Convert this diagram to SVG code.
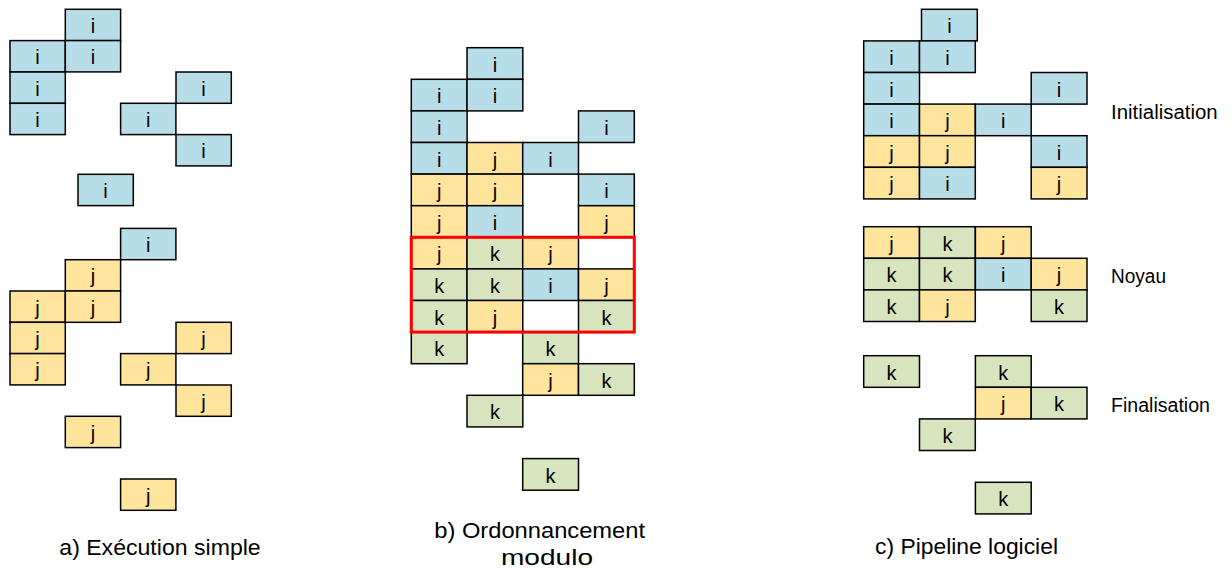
<svg xmlns="http://www.w3.org/2000/svg" width="1231" height="572" viewBox="0 0 1231 572">
<style>
rect.c{stroke:#000;stroke-width:1.5}
.b{fill:#B7DDE8}
.y{fill:#FFE49C}
.g{fill:#D7E4BD}
text{font-family:"Liberation Sans",Arial,sans-serif;fill:#000}
.l{font-size:20px;text-anchor:middle}
.side{font-size:20px}
.cap{font-size:22px}
</style>
<rect width="1231" height="572" fill="#fff"/>
<defs>
<rect id="ca" class="c" width="55.3" height="31.3"/>
<rect id="cb" class="c" width="55.8" height="31.6"/>
</defs>
<g id="colA">
<g id="a1"><use href="#ca" class="b" x="65.3" y="9.3"/><text class="l" x="93" y="33">i</text></g>
<g id="a2"><use href="#ca" class="b" x="10" y="40.6"/><text class="l" x="37.6" y="64.3">i</text></g>
<g id="a3"><use href="#ca" class="b" x="65.3" y="40.6"/><text class="l" x="93" y="64.3">i</text></g>
<g id="a4"><use href="#ca" class="b" x="10" y="72"/><text class="l" x="37.6" y="95.7">i</text></g>
<g id="a5"><use href="#ca" class="b" x="10" y="103.3"/><text class="l" x="37.6" y="127">i</text></g>
<g id="a6"><use href="#ca" class="b" x="176" y="72"/><text class="l" x="203.6" y="95.7">i</text></g>
<g id="a7"><use href="#ca" class="b" x="120.6" y="103.3"/><text class="l" x="148.3" y="127">i</text></g>
<g id="a8"><use href="#ca" class="b" x="176" y="134.6"/><text class="l" x="203.6" y="158.3">i</text></g>
<g id="a9"><use href="#ca" class="b" x="78" y="174.3"/><text class="l" x="105.6" y="198">i</text></g>
<g id="a10"><use href="#ca" class="b" x="120.6" y="228.4"/><text class="l" x="148.3" y="252.1">i</text></g>
<g id="a11"><use href="#ca" class="y" x="65.3" y="259.7"/><text class="l" x="93" y="283.4">j</text></g>
<g id="a12"><use href="#ca" class="y" x="10" y="291"/><text class="l" x="37.6" y="314.7">j</text></g>
<g id="a13"><use href="#ca" class="y" x="65.3" y="291"/><text class="l" x="93" y="314.7">j</text></g>
<g id="a14"><use href="#ca" class="y" x="10" y="322.3"/><text class="l" x="37.6" y="346">j</text></g>
<g id="a15"><use href="#ca" class="y" x="10" y="353.6"/><text class="l" x="37.6" y="377.3">j</text></g>
<g id="a16"><use href="#ca" class="y" x="176" y="322.3"/><text class="l" x="203.6" y="346">j</text></g>
<g id="a17"><use href="#ca" class="y" x="120.6" y="353.6"/><text class="l" x="148.3" y="377.3">j</text></g>
<g id="a18"><use href="#ca" class="y" x="176" y="385"/><text class="l" x="203.6" y="408.7">j</text></g>
<g id="a19"><use href="#ca" class="y" x="65.3" y="416.3"/><text class="l" x="93" y="440">j</text></g>
<g id="a20"><use href="#ca" class="y" x="120.6" y="479"/><text class="l" x="148.3" y="502.7">j</text></g>
</g>
<g id="colB">
<g id="b1"><use href="#cb" class="b" x="467" y="47.7"/><text class="l" x="494.9" y="71.7">i</text></g>
<g id="b2"><use href="#cb" class="b" x="411.3" y="79.3"/><text class="l" x="439.2" y="103.3">i</text></g>
<g id="b3"><use href="#cb" class="b" x="467" y="79.3"/><text class="l" x="494.9" y="103.3">i</text></g>
<g id="b4"><use href="#cb" class="b" x="411.3" y="110.9"/><text class="l" x="439.2" y="134.9">i</text></g>
<g id="b5"><use href="#cb" class="b" x="578.5" y="110.9"/><text class="l" x="606.4" y="134.9">i</text></g>
<g id="b6"><use href="#cb" class="b" x="411.3" y="142.5"/><text class="l" x="439.2" y="166.5">i</text></g>
<g id="b7"><use href="#cb" class="y" x="467" y="142.5"/><text class="l" x="494.9" y="166.5">j</text></g>
<g id="b8"><use href="#cb" class="b" x="522.7" y="142.5"/><text class="l" x="550.6" y="166.5">i</text></g>
<g id="b9"><use href="#cb" class="y" x="411.3" y="174.1"/><text class="l" x="439.2" y="198.1">j</text></g>
<g id="b10"><use href="#cb" class="y" x="467" y="174.1"/><text class="l" x="494.9" y="198.1">j</text></g>
<g id="b11"><use href="#cb" class="b" x="578.5" y="174.1"/><text class="l" x="606.4" y="198.1">i</text></g>
<g id="b12"><use href="#cb" class="y" x="411.3" y="205.7"/><text class="l" x="439.2" y="229.7">j</text></g>
<g id="b13"><use href="#cb" class="b" x="467" y="205.7"/><text class="l" x="494.9" y="229.7">i</text></g>
<g id="b14"><use href="#cb" class="y" x="578.5" y="205.7"/><text class="l" x="606.4" y="229.7">j</text></g>
<g id="b15"><use href="#cb" class="y" x="411.3" y="237.3"/><text class="l" x="439.2" y="261.3">j</text></g>
<g id="b16"><use href="#cb" class="g" x="467" y="237.3"/><text class="l" x="494.9" y="261.3">k</text></g>
<g id="b17"><use href="#cb" class="y" x="522.7" y="237.3"/><text class="l" x="550.6" y="261.3">j</text></g>
<g id="b18"><use href="#cb" class="g" x="411.3" y="268.9"/><text class="l" x="439.2" y="292.9">k</text></g>
<g id="b19"><use href="#cb" class="g" x="467" y="268.9"/><text class="l" x="494.9" y="292.9">k</text></g>
<g id="b20"><use href="#cb" class="b" x="522.7" y="268.9"/><text class="l" x="550.6" y="292.9">i</text></g>
<g id="b21"><use href="#cb" class="y" x="578.5" y="268.9"/><text class="l" x="606.4" y="292.9">j</text></g>
<g id="b22"><use href="#cb" class="g" x="411.3" y="300.5"/><text class="l" x="439.2" y="324.5">k</text></g>
<g id="b23"><use href="#cb" class="y" x="467" y="300.5"/><text class="l" x="494.9" y="324.5">j</text></g>
<g id="b24"><use href="#cb" class="g" x="578.5" y="300.5"/><text class="l" x="606.4" y="324.5">k</text></g>
<g id="b25"><use href="#cb" class="g" x="411.3" y="332.1"/><text class="l" x="439.2" y="356.1">k</text></g>
<g id="b26"><use href="#cb" class="g" x="522.7" y="332.1"/><text class="l" x="550.6" y="356.1">k</text></g>
<g id="b27"><use href="#cb" class="y" x="522.7" y="363.7"/><text class="l" x="550.6" y="387.7">j</text></g>
<g id="b28"><use href="#cb" class="g" x="578.5" y="363.7"/><text class="l" x="606.4" y="387.7">k</text></g>
<g id="b29"><use href="#cb" class="g" x="467" y="395.3"/><text class="l" x="494.9" y="419.3">k</text></g>
<g id="b30"><use href="#cb" class="g" x="522.7" y="458.6"/><text class="l" x="550.6" y="482.6">k</text></g>
<g id="kernelFrame"><rect x="411.3" y="237.3" width="223" height="94.8" fill="none" stroke="#FF0000" stroke-width="3"/></g>
</g>
<g id="colC">
<g id="c1"><use href="#cb" class="b" x="921.5" y="9.3"/><text class="l" x="949.4" y="33.3">i</text></g>
<g id="c2"><use href="#cb" class="b" x="863.7" y="40.9"/><text class="l" x="891.6" y="64.9">i</text></g>
<g id="c3"><use href="#cb" class="b" x="919.5" y="40.9"/><text class="l" x="947.4" y="64.9">i</text></g>
<g id="c4"><use href="#cb" class="b" x="863.7" y="72.5"/><text class="l" x="891.6" y="96.5">i</text></g>
<g id="c5"><use href="#cb" class="b" x="1031.2" y="72.5"/><text class="l" x="1059.1" y="96.5">i</text></g>
<g id="c6"><use href="#cb" class="b" x="863.7" y="104.1"/><text class="l" x="891.6" y="128.1">i</text></g>
<g id="c7"><use href="#cb" class="y" x="919.5" y="104.1"/><text class="l" x="947.4" y="128.1">j</text></g>
<g id="c8"><use href="#cb" class="b" x="975.4" y="104.1"/><text class="l" x="1003.3" y="128.1">i</text></g>
<g id="c9"><use href="#cb" class="y" x="863.7" y="135.7"/><text class="l" x="891.6" y="159.7">j</text></g>
<g id="c10"><use href="#cb" class="y" x="919.5" y="135.7"/><text class="l" x="947.4" y="159.7">j</text></g>
<g id="c11"><use href="#cb" class="b" x="1031.2" y="135.7"/><text class="l" x="1059.1" y="159.7">i</text></g>
<g id="c12"><use href="#cb" class="y" x="863.7" y="167.3"/><text class="l" x="891.6" y="191.3">j</text></g>
<g id="c13"><use href="#cb" class="b" x="919.5" y="167.3"/><text class="l" x="947.4" y="191.3">i</text></g>
<g id="c14"><use href="#cb" class="y" x="1031.2" y="167.3"/><text class="l" x="1059.1" y="191.3">j</text></g>
<g id="c15"><use href="#cb" class="y" x="863.7" y="226.7"/><text class="l" x="891.6" y="250.7">j</text></g>
<g id="c16"><use href="#cb" class="g" x="919.5" y="226.7"/><text class="l" x="947.4" y="250.7">k</text></g>
<g id="c17"><use href="#cb" class="y" x="975.4" y="226.7"/><text class="l" x="1003.3" y="250.7">j</text></g>
<g id="c18"><use href="#cb" class="g" x="863.7" y="258.3"/><text class="l" x="891.6" y="282.3">k</text></g>
<g id="c19"><use href="#cb" class="g" x="919.5" y="258.3"/><text class="l" x="947.4" y="282.3">k</text></g>
<g id="c20"><use href="#cb" class="b" x="975.4" y="258.3"/><text class="l" x="1003.3" y="282.3">i</text></g>
<g id="c21"><use href="#cb" class="y" x="1031.2" y="258.3"/><text class="l" x="1059.1" y="282.3">j</text></g>
<g id="c22"><use href="#cb" class="g" x="863.7" y="289.9"/><text class="l" x="891.6" y="313.9">k</text></g>
<g id="c23"><use href="#cb" class="y" x="919.5" y="289.9"/><text class="l" x="947.4" y="313.9">j</text></g>
<g id="c24"><use href="#cb" class="g" x="1031.2" y="289.9"/><text class="l" x="1059.1" y="313.9">k</text></g>
<g id="c25"><use href="#cb" class="g" x="863.7" y="355.7"/><text class="l" x="891.6" y="379.7">k</text></g>
<g id="c26"><use href="#cb" class="g" x="975.4" y="355.7"/><text class="l" x="1003.3" y="379.7">k</text></g>
<g id="c27"><use href="#cb" class="y" x="975.4" y="387.3"/><text class="l" x="1003.3" y="411.3">j</text></g>
<g id="c28"><use href="#cb" class="g" x="1031.2" y="387.3"/><text class="l" x="1059.1" y="411.3">k</text></g>
<g id="c29"><use href="#cb" class="g" x="919.5" y="418.9"/><text class="l" x="947.4" y="442.9">k</text></g>
<g id="c30"><use href="#cb" class="g" x="975.4" y="482.3"/><text class="l" x="1003.3" y="506.3">k</text></g>
</g>
<g id="labels">
<text class="side" x="1111" y="119.3" textLength="106.7" lengthAdjust="spacingAndGlyphs">Initialisation</text>
<text class="side" x="1111" y="282.7" textLength="55" lengthAdjust="spacingAndGlyphs">Noyau</text>
<text class="side" x="1111" y="411.7" textLength="99" lengthAdjust="spacingAndGlyphs">Finalisation</text>
<text class="cap" x="59.3" y="554.5" textLength="201.4" lengthAdjust="spacingAndGlyphs">a) Exécution simple</text>
<text class="cap" x="434.3" y="537.7" textLength="210.7" lengthAdjust="spacingAndGlyphs">b) Ordonnancement</text>
<text class="cap" x="501" y="565.3" textLength="92" lengthAdjust="spacingAndGlyphs">modulo</text>
<text class="cap" x="875" y="553.5" textLength="183" lengthAdjust="spacingAndGlyphs">c) Pipeline logiciel</text>
</g>
</svg>
